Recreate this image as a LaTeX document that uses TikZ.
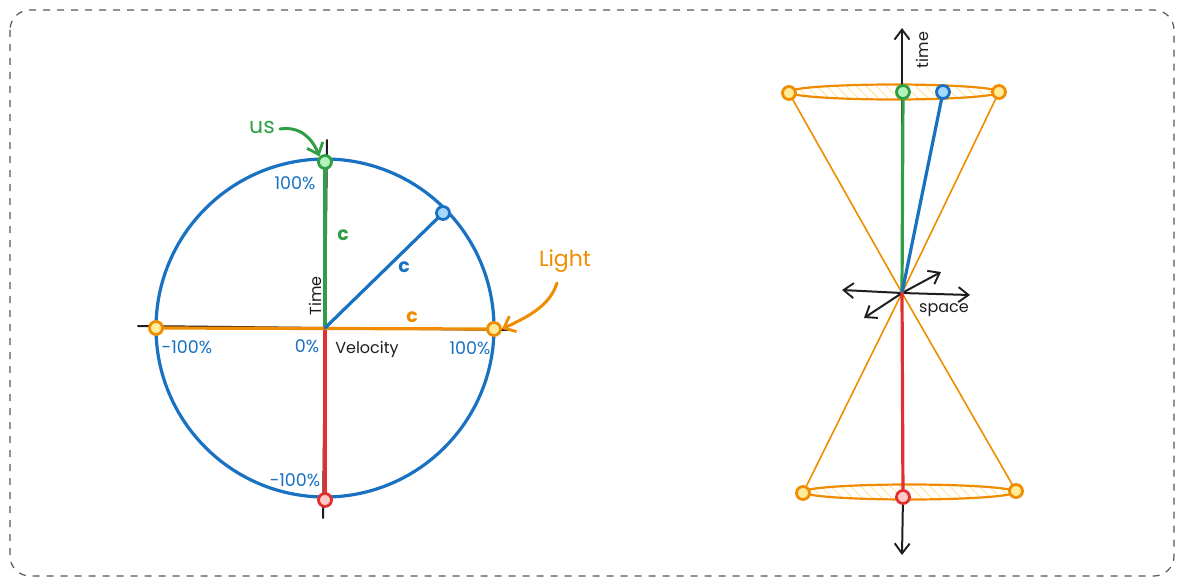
\documentclass[tikz,border=0pt]{standalone}
\usepackage{fontspec}
\setmainfont{Poppins}
\usetikzlibrary{arrows.meta,patterns.meta}
\definecolor{cblue}{HTML}{1971C2}
\definecolor{cgreen}{HTML}{2F9E44}
\definecolor{corange}{HTML}{F08C00}
\definecolor{cred}{HTML}{E03131}
\definecolor{cblack}{HTML}{1E1E1E}
\definecolor{fblue}{HTML}{A5D8FF}
\definecolor{fgreen}{HTML}{B2F2BB}
\definecolor{forange}{HTML}{FFEC99}
\definecolor{fred}{HTML}{FFC9C9}
\definecolor{hatch}{HTML}{FFE590}
\tikzset{
  dot/.style={circle,draw=#1,line width=2.8pt,minimum size=13pt,inner sep=0pt},
  seg/.style={line width=3.2pt,line cap=round},
  axis/.style={cblack,line width=2pt,line cap=round},
  cone/.style={corange,line width=1.6pt},
  lbl/.style={font=\fontsize{16}{18}\selectfont,inner sep=0pt},
  pct/.style={font=\fontsize{17.5}{19}\selectfont,inner sep=0pt},
  cc/.style={font=\fontsize{19}{21}\selectfont\bfseries,inner sep=0pt},
  big/.style={font=\fontsize{22}{24}\selectfont,inner sep=0pt},
  harrow/.style={line width=3pt,line cap=round,-{Straight Barb[length=10pt,width=17pt,line width=2.8pt]}},
  barb/.style={line width=2pt,line cap=round,-{Straight Barb[length=10pt,width=15pt,line width=1.9pt]}},
  hatched/.style={corange,line width=2.2pt,pattern={Lines[angle=-45,distance=7pt,line width=0.9pt]},pattern color=hatch},
}
\begin{document}
\begin{tikzpicture}[x=1pt,y=-1pt]
\useasboundingbox (0,0) rectangle (1184,586);
\draw[cblack!75,line width=1.2pt,dash pattern=on 7pt off 7pt,rounded corners=20pt] (10,10) rectangle (1174,576);

% ---------- left diagram ----------
\coordinate (O) at (325,328);
\coordinate (tA) at (327,140);
\coordinate (bA) at (323,518);
\coordinate (lA) at (138,326);
\coordinate (rA) at (512,330);
\coordinate (G) at (325,162);
\coordinate (R) at (325,500);
\coordinate (L1) at (156,328);
\coordinate (L2) at (494,329);
\coordinate (B) at (443,213);

\draw[axis] (tA) -- (bA);
\draw[axis] (lA) -- (rA);
\draw[cblue,line width=3.2pt] (O) circle[radius=169];
\draw[seg,cgreen] (O) -- (G);
\draw[seg,cred] (O) -- (R);
\draw[seg,corange] (L1) -- (L2);
\draw[seg,cblue] (O) -- (B);

\node[dot=cgreen,fill=fgreen] (g) at (G) {};
\node[dot=cred,fill=fred] (r) at (R) {};
\node[dot=corange,fill=forange] (l1) at (L1) {};
\node[dot=corange,fill=forange] (l2) at (L2) {};
\node[dot=cblue,fill=fblue] (b) at (B) {};

\node[pct,cblue] at (295,183) {100\%};
\node[cc,cgreen] at (343,235) {c};
\node[cc,cblue] at (404,267) {c};
\node[cc,corange] at (412,317) {c};
\node[lbl,cblack,rotate=90] at (315,296) {Time};
\node[pct,cblue] at (187,347) {-100\%};
\node[pct,cblue] at (307,346) {0\%};
\node[lbl,cblack] at (367,349) {Velocity};
\node[pct,cblue] at (470,348) {100\%};
\node[pct,cblue] at (295,480) {-100\%};

\node[big,cgreen] (us) at (262,127) {us};
\draw[harrow,cgreen] (280,129) .. controls (300,126) and (312,138) .. (g.north west);
\node[big,corange] (light) at (565,261) {Light};
\draw[harrow,corange] (557,283) .. controls (550,305) and (530,316) .. (l2.east);

% ---------- right diagram ----------
\coordinate (C) at (902,293);
\coordinate (T1) at (789,93);
\coordinate (T2) at (999,92);
\coordinate (TG) at (903,92);
\coordinate (TB) at (943,92);
\coordinate (D1) at (803,493);
\coordinate (D2) at (1016,491);
\coordinate (DR) at (903,497);

\draw[hatched] (894,92) ellipse[x radius=105,y radius=7.5];
\draw[hatched] (909,492) ellipse[x radius=106,y radius=7.5];

\draw[cone] (T1) -- (C) -- (D2);
\draw[cone] (T2) -- (C) -- (D1);

\draw[barb,cblack] (C) -- (902,28);
\draw[barb,cblack] (DR) -- (902,555);

\draw[barb,cblack] (C) -- (842,290);
\draw[barb,cblack] (C) -- (970,295);
\draw[barb,cblack] (C) -- (941,272);
\draw[barb,cblack] (C) -- (864,318);

\draw[seg,cgreen] (C) -- (TG);
\draw[seg,cblue] (C) -- (TB);
\draw[seg,cred] (C) -- (DR);

\node[dot=corange,fill=forange] (t1) at (T1) {};
\node[dot=corange,fill=forange] (t2) at (T2) {};
\node[dot=cgreen,fill=fgreen] (tg) at (TG) {};
\node[dot=cblue,fill=fblue] (tb) at (TB) {};
\node[dot=corange,fill=forange] (d1) at (D1) {};
\node[dot=corange,fill=forange] (d2) at (D2) {};
\node[dot=cred,fill=fred] (dr) at (DR) {};

\node[lbl,cblack] at (944,310) {space};
\node[lbl,cblack,rotate=90] at (922,50) {time};
\end{tikzpicture}
\end{document}
